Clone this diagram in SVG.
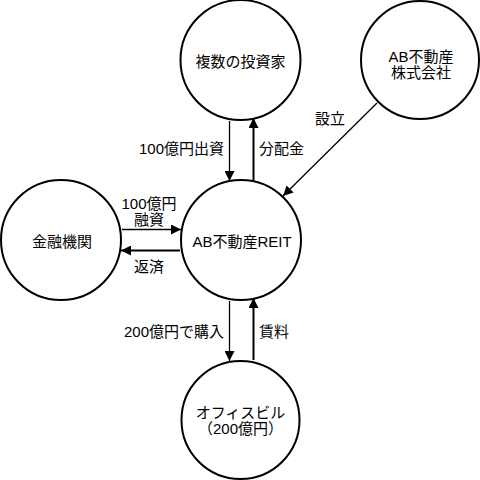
<svg xmlns="http://www.w3.org/2000/svg" width="480" height="480" viewBox="0 0 480 480">
<style>
.node{fill:#fff;stroke:#000;stroke-width:2}
text{font-family:"Liberation Sans","Noto Sans CJK JP",sans-serif;font-size:15px;fill:#000}
.c{text-anchor:middle}
.e{text-anchor:end}
.thin{stroke:#000;stroke-width:1.3;fill:none}
.thick{stroke:#000;stroke-width:2;fill:none}
</style>
<defs>
<marker id="ah" viewBox="0 0 10 10" refX="10" refY="5" markerWidth="10" markerHeight="10" markerUnits="userSpaceOnUse" orient="auto">
<path d="M0,0 L10,5 L0,10 z" fill="#000"/>
</marker>
</defs>
<rect width="480" height="480" fill="#fff"/>
<g id="connectors">
<line class="thin" x1="229.5" y1="121" x2="229.5" y2="181" marker-end="url(#ah)"/>
<line class="thick" x1="253.5" y1="180" x2="253.5" y2="118" marker-end="url(#ah)"/>
<line class="thin" x1="377" y1="103" x2="283" y2="196" marker-end="url(#ah)"/>
<line class="thin" x1="122" y1="229.5" x2="181" y2="229.5" marker-end="url(#ah)"/>
<line class="thick" x1="180" y1="250.5" x2="121" y2="250.5" marker-end="url(#ah)"/>
<line class="thin" x1="229.5" y1="301" x2="229.5" y2="361" marker-end="url(#ah)"/>
<line class="thick" x1="253.5" y1="360" x2="253.5" y2="298" marker-end="url(#ah)"/>
<text class="e" x="224" y="154">100億円出資</text>
<text x="259" y="154">分配金</text>
<text x="315" y="124">設立</text>
<text class="c" x="149" y="209">100億円</text>
<text class="c" x="149" y="225">融資</text>
<text class="c" x="149" y="272">返済</text>
<text class="e" x="224" y="337">200億円で購入</text>
<text x="259" y="337">賃料</text>
</g>
<g id="investors">
<circle class="node" cx="240.5" cy="60" r="60"/>
<text class="c" x="240.5" y="67">複数の投資家</text>
</g>
<g id="ab-company">
<circle class="node" cx="420" cy="60" r="59"/>
<text class="c" x="421" y="62">AB不動産</text>
<text class="c" x="421" y="78">株式会社</text>
</g>
<g id="reit">
<circle class="node" cx="241" cy="240" r="60"/>
<text class="c" x="242" y="247">AB不動産REIT</text>
</g>
<g id="bank">
<circle class="node" cx="61" cy="240" r="60"/>
<text class="c" x="62" y="247">金融機関</text>
</g>
<g id="office">
<circle class="node" cx="240.5" cy="420" r="59"/>
<text class="c" x="240.5" y="418">オフィスビル</text>
<text class="c" x="240.5" y="434">（200億円）</text>
</g>
</svg>
